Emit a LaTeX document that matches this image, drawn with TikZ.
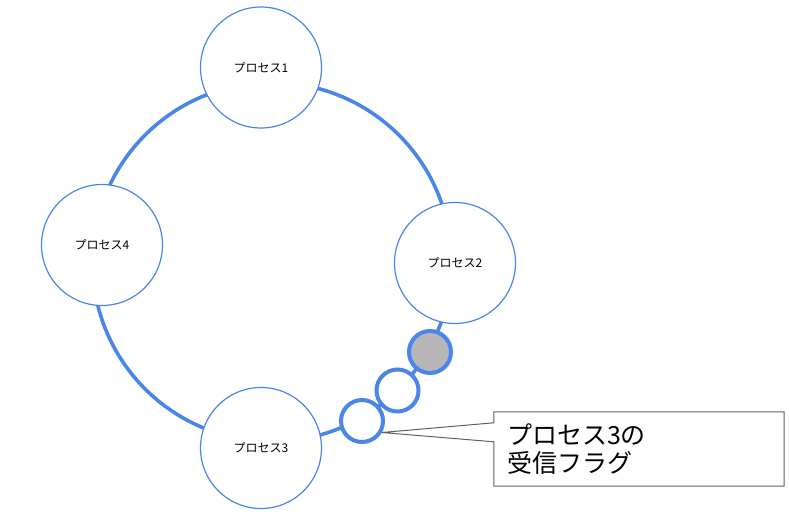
\documentclass[tikz,border=0pt]{standalone}
\usepackage{fontspec}
\usepackage{tikz}
\usetikzlibrary{calc}
\newfontfamily\jpfont{Noto Sans CJK JP}
\definecolor{ringblue}{HTML}{4A86E8}
\definecolor{flaggray}{HTML}{B7B7B7}
\definecolor{boxgray}{HTML}{606060}

\begin{document}
\begin{tikzpicture}[x=1pt,y=-1pt,
		proc/.style={circle,draw=ringblue,line width=1.2pt,fill=white,minimum size=121pt,inner sep=0pt,font=\jpfont\fontsize{12}{14}\selectfont},
		flag/.style={circle,draw=ringblue,line width=4pt,fill=white,minimum size=42pt,inner sep=0pt},
		ringline/.style={draw=ringblue,line width=3.6pt},
		calloutbox/.style={rectangle,minimum width=290pt,minimum height=74pt,inner xsep=13pt,text width=264pt,align=left,font=\jpfont\fontsize{25}{28}\selectfont}]
		\useasboundingbox (0,0) rectangle (789,518);

		% ring behind the nodes
		\coordinate (ring) at (272,262);
		\draw[ringline] (ring) circle (179.5);

		\node[proc] (p1) at (261,67.5) {プロセス1};
		\node[proc] (p2) at (455,263) {プロセス2};
		\node[proc] (p3) at (261,448) {プロセス3};
		\node[proc] (p4) at (102,245) {プロセス4};

		\node[flag,fill=flaggray] (f1) at (430,352) {};
		\node[flag] (f2) at (397.5,390.5) {};
		\node[flag] (f3) at (362,421) {};

		% callout
		\coordinate (tip) at (f3.-30);
		\node[calloutbox] (note) at (639,449) {プロセス3の\\受信フラグ};
		\draw[boxgray,line width=1pt,line join=miter] (note.north west) -- ($(note.north west)+(0,11)$) -- (tip) -- ($(note.north west)+(0,30)$) -- (note.south west) -- (note.south east) -- (note.north east) -- cycle;

	\end{tikzpicture}
\end{document}
